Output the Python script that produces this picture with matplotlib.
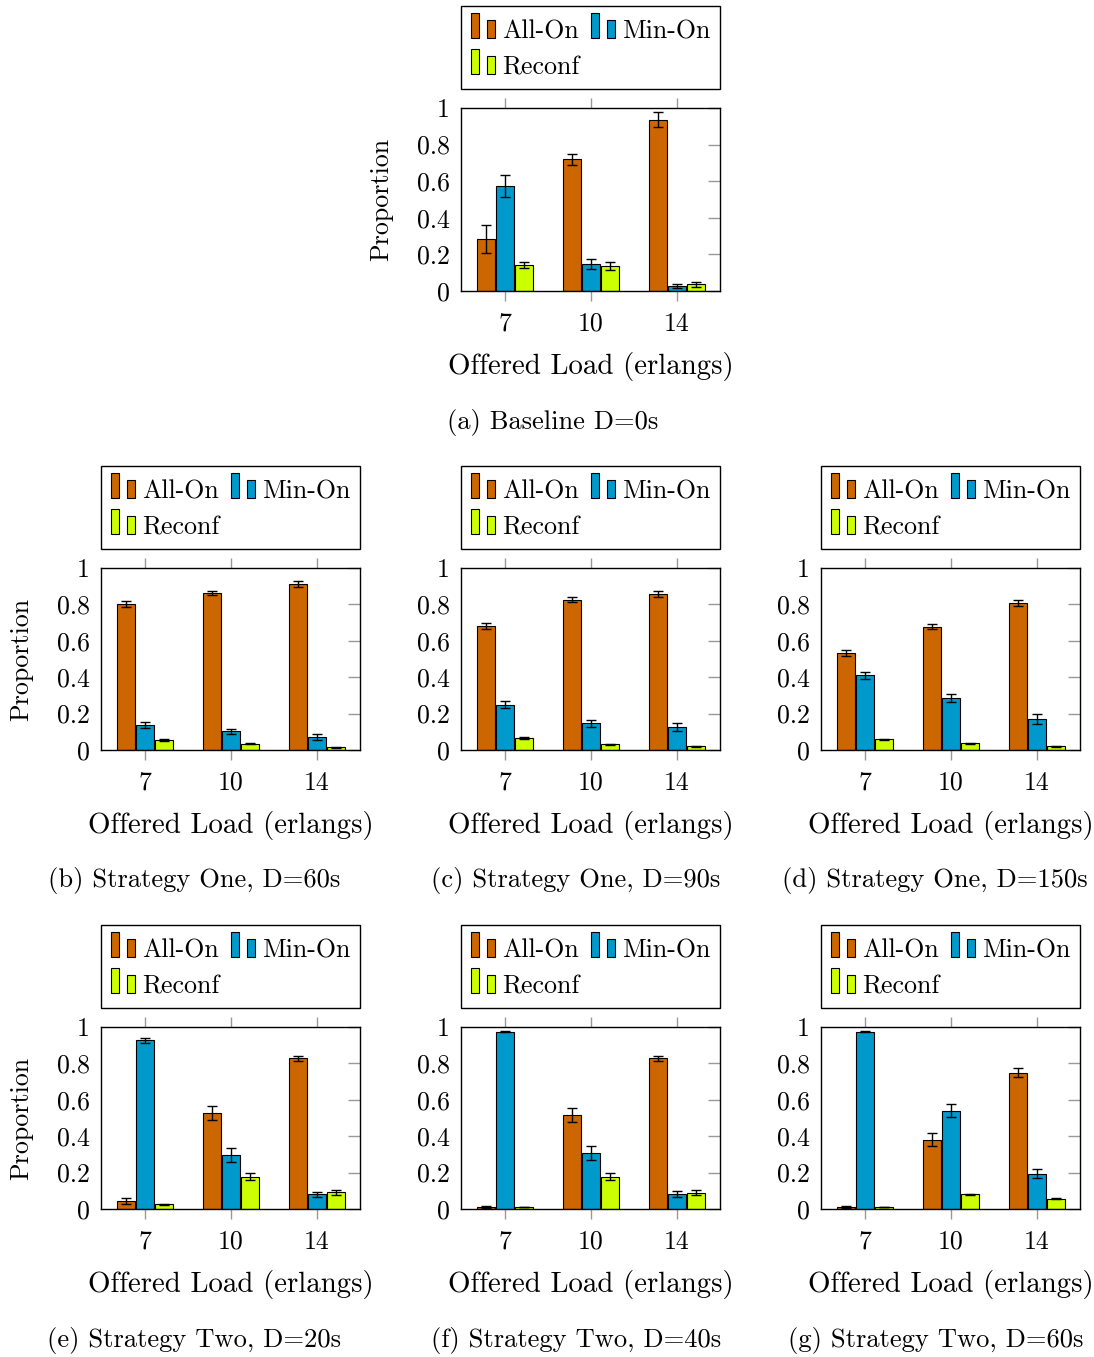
import matplotlib
matplotlib.use("Agg")
import matplotlib.pyplot as plt
from matplotlib.legend_handler import HandlerBase
from matplotlib.patches import Rectangle
from matplotlib.ticker import FuncFormatter

plt.rcParams['font.family'] = ['cmr10', 'DejaVu Serif']
plt.rcParams['mathtext.fontset'] = 'cm'
plt.rcParams['axes.formatter.use_mathtext'] = True

loads = ["7", "10", "14"]
captions = ["(a) Baseline D=0s",
            "(b) Strategy One, D=60s",
            "(c) Strategy One, D=90s",
            "(d) Strategy One, D=150s",
            "(e) Strategy Two, D=20s",
            "(f) Strategy Two, D=40s",
            "(g) Strategy Two, D=60s"]

# one row per panel (a..g), one value per offered load
all_on = [[0.285, 0.719, 0.936],
          [0.803, 0.863, 0.913],
          [0.680, 0.826, 0.857],
          [0.531, 0.678, 0.809],
          [0.044, 0.526, 0.827],
          [0.011, 0.515, 0.827],
          [0.011, 0.381, 0.750]]
all_on_err = [[0.076, 0.029, 0.040],
              [0.016, 0.013, 0.015],
              [0.016, 0.013, 0.015],
              [0.016, 0.013, 0.016],
              [0.016, 0.038, 0.015],
              [0.005, 0.038, 0.015],
              [0.006, 0.035, 0.022]]
min_on = [[0.573, 0.146, 0.027],
          [0.138, 0.102, 0.071],
          [0.250, 0.146, 0.124],
          [0.410, 0.284, 0.170],
          [0.927, 0.297, 0.080],
          [0.975, 0.308, 0.084],
          [0.975, 0.539, 0.193]]
min_on_err = [[0.061, 0.027, 0.012],
              [0.016, 0.016, 0.018],
              [0.021, 0.019, 0.022],
              [0.020, 0.023, 0.029],
              [0.015, 0.039, 0.016],
              [0.005, 0.039, 0.017],
              [0.005, 0.036, 0.025]]
reconf = [[0.142, 0.137, 0.036],
          [0.055, 0.035, 0.015],
          [0.067, 0.031, 0.020],
          [0.058, 0.038, 0.020],
          [0.027, 0.177, 0.091],
          [0.011, 0.177, 0.089],
          [0.011, 0.080, 0.056]]
reconf_err = [[0.019, 0.021, 0.012],
              [0.005, 0.004, 0.003],
              [0.005, 0.003, 0.003],
              [0.003, 0.003, 0.003],
              [0.003, 0.020, 0.016],
              [0.002, 0.019, 0.013],
              [0.002, 0.004, 0.003]]

names = ["All-On", "Min-On", "Reconf"]
colors = ["#CC6600", "#0099CC", "#CCFF00"]

W, H = 1094, 1357
# axes boxes in pixels: left, top, right, bottom
boxes = [(461, 108, 720, 291),
         (101, 568, 360, 750), (461, 568, 720, 750), (821, 568, 1080, 750),
         (101, 1027, 360, 1209), (461, 1027, 720, 1209), (821, 1027, 1080, 1209)]
cap_pos = [(553, 422),
           (194, 881), (576, 881), (935, 881),
           (194, 1340), (576, 1340), (936, 1340)]
with_ylabel = [True, True, False, False, True, False, False]


class TwoBars(HandlerBase):
    # pgfplots style ybar legend image: a tall and a short bar on the baseline
    def create_artists(self, legend, orig, xd, yd, w, h, fs, trans):
        fc = orig.patches[0].get_facecolor()
        bw = w * 0.34
        r1 = Rectangle((-xd, 0), bw, 0.97 * fs, facecolor=fc,
                       edgecolor='black', lw=0.8, transform=trans)
        r2 = Rectangle((-xd + w - bw, 0), bw, 0.70 * fs, facecolor=fc,
                       edgecolor='black', lw=0.8, transform=trans)
        return [r1, r2]


fig = plt.figure(figsize=(W / 100, H / 100), dpi=100)
fs = 18.6        # ticks, legend
fs_xlab = 20.8
fs_ylab = 18.7
fs_cap = 19.1
bw = 0.215
offs = [-0.22, 0.0, 0.22]

for i, (l, t, r, b) in enumerate(boxes):
    ax = fig.add_axes([l / W, 1 - b / H, (r - l) / W, (b - t) / H])
    x = range(len(loads))
    series = [(all_on[i], all_on_err[i]), (min_on[i], min_on_err[i]), (reconf[i], reconf_err[i])]
    handles = []
    for k, (vals, errs) in enumerate(series):
        xs = [xx + offs[k] for xx in x]
        bars = ax.bar(xs, vals, bw, color=colors[k], edgecolor='black', linewidth=0.8,
                      label=names[k], zorder=2)
        ax.errorbar(xs, vals, yerr=errs, fmt='none', ecolor='black', elinewidth=1,
                    capsize=3.6, capthick=1, zorder=3)
        handles.append(bars)
    ax.set_xlim(-0.51, 2.5)
    ax.set_ylim(0, 1)
    ax.set_xticks(list(x))
    ax.set_xticklabels(loads)
    ax.set_yticks([0, 0.2, 0.4, 0.6, 0.8, 1.0])
    ax.yaxis.set_major_formatter(FuncFormatter(lambda v, p: f"{v:g}"))
    ax.tick_params(axis='x', direction='out', length=7, width=1, color='#999999',
                   top=True, labelsize=fs, pad=8)
    ax.tick_params(axis='y', direction='in', length=8.5, width=1, color='#999999',
                   left=False, right=True, labelsize=fs, pad=8)
    for sp in ax.spines.values():
        sp.set_linewidth(1)
    ax.set_xlabel("Offered Load (erlangs)", fontsize=fs_xlab, labelpad=12)
    if with_ylabel[i]:
        ax.set_ylabel("Proportion", fontsize=fs_ylab)
        ax.yaxis.set_label_coords(-0.2625, 0.5)
    # matplotlib fills legend columns first, so reorder to get row-wise layout
    order = [0, 2, 1]
    leg = ax.legend(handles=[handles[j] for j in order], labels=[names[j] for j in order],
                    ncol=2, loc='lower left',
                    bbox_to_anchor=(0, 1 + 19 / (b - t), 1, 0.4), mode='expand',
                    borderaxespad=0, fontsize=fs, frameon=True, fancybox=False,
                    edgecolor='black', handlelength=0.93, handleheight=1.2,
                    handletextpad=0.27, borderpad=0.38, labelspacing=0.35,
                    columnspacing=0.2, handler_map={type(handles[0]): TwoBars()})
    leg.get_frame().set_linewidth(1)
    leg.get_frame().set_alpha(None)
    fig.text(cap_pos[i][0] / W, 1 - cap_pos[i][1] / H, captions[i], fontsize=fs_cap,
             ha='center', va='center')

fig.savefig("out.png", dpi=100)
